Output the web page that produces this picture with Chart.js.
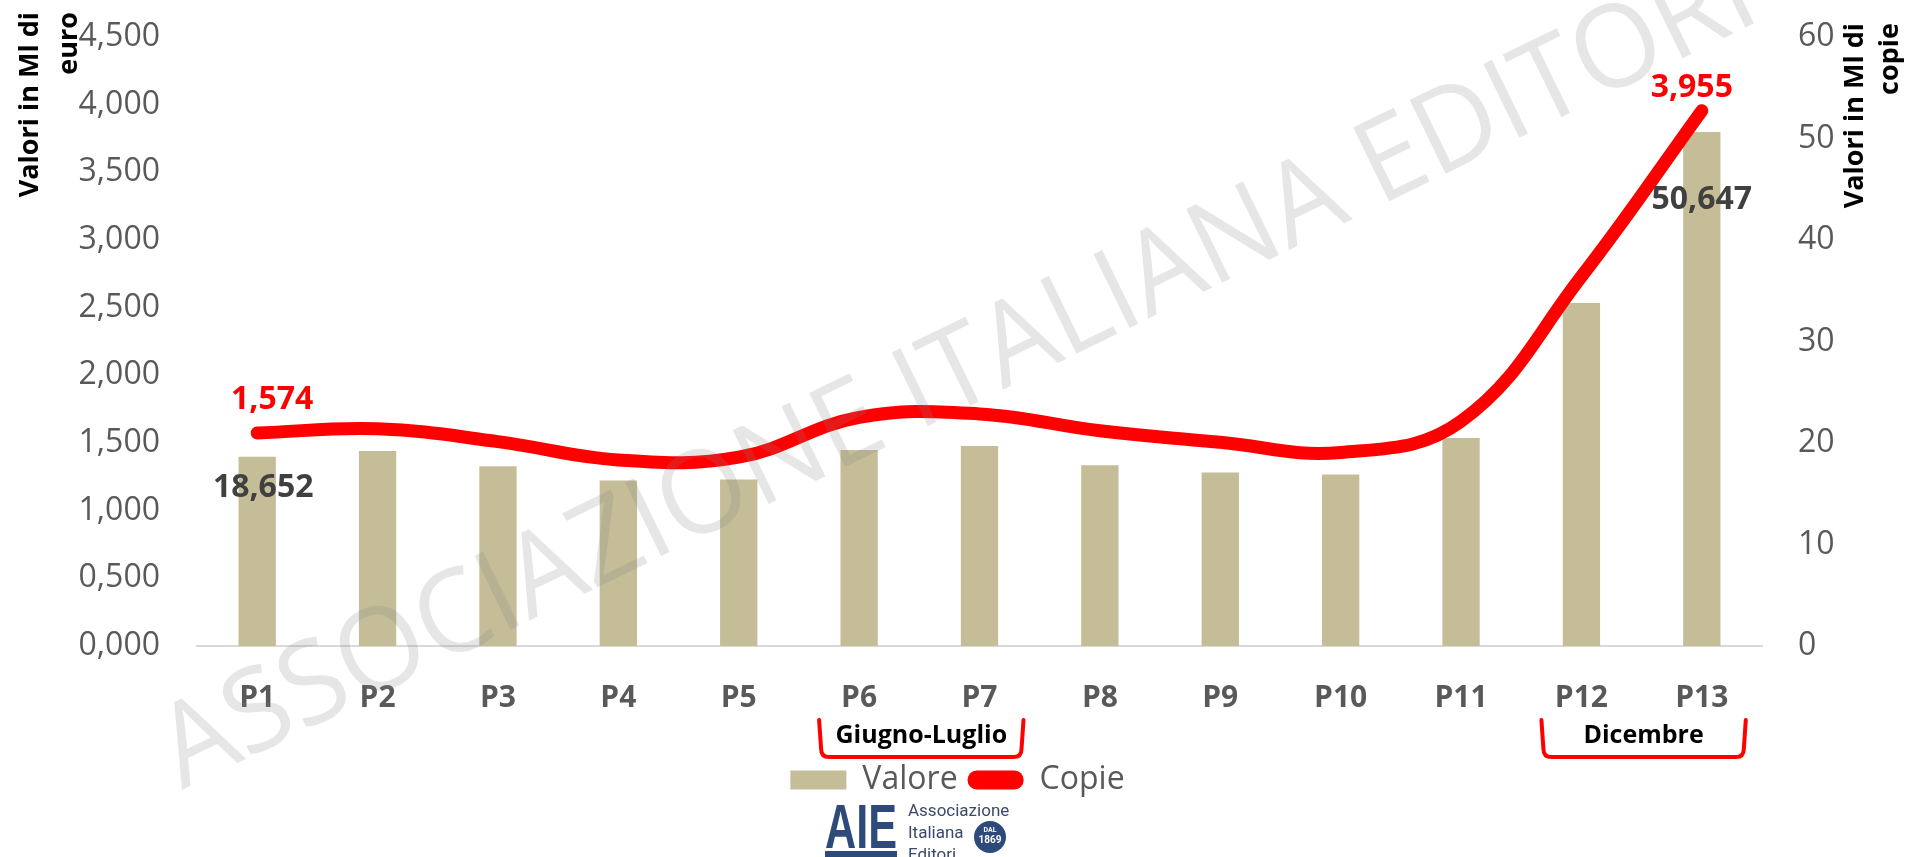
<!DOCTYPE html>
<html>
<head>
<meta charset="utf-8">
<script src="https://cdn.jsdelivr.net/npm/chart.js@4.4.0/dist/chart.umd.min.js"></script>
<style>
  html, body { margin: 0; padding: 0; background: #fff; overflow: hidden; }
  canvas { display: block; }
</style>
</head>
<body>
<canvas id="chart" width="1915" height="857"></canvas>
<script>
// periodi e valori
const periods = ["P1", "P2", "P3", "P4", "P5", "P6", "P7", "P8", "P9", "P10", "P11", "P12", "P13"];
// barre (asse destro, Ml di copie)
const valoreBars = [18.652, 19.2, 17.7, 16.3, 16.4, 19.3, 19.7, 17.8, 17.1, 16.9, 20.5, 33.8, 50.647];
// linea (asse sinistro, Ml di euro)
const copieLine = [1.574, 1.605, 1.510, 1.375, 1.395, 1.690, 1.715, 1.590, 1.505, 1.430, 1.660, 2.730, 3.955];
// etichette dati mostrate solo su primo e ultimo punto
const labelPoints = [0, 12];
const periodNotes = [
    { text: "Giugno-Luglio", from: 5, to: 6 },
    { text: "Dicembre", from: 11, to: 12 }
];

const TAN = "#C4BD97";
const RED = "#FF0000";
const GREY = "#595959";
const FONT = "'Open Sans', sans-serif";

const fmt = v => v.toFixed(3).replace(".", ",");

Chart.defaults.font.family = FONT;

const extras = {
    id: "extras",
    afterDatasetsDraw(chart) {
        const ctx = chart.ctx;
        const bars = chart.getDatasetMeta(0).data;
        const line = chart.getDatasetMeta(1).data;
        ctx.save();
        ctx.font = "bold 32px " + FONT;
        ctx.textAlign = "center";
        ctx.textBaseline = "middle";
        // label offsets copied from the original placement
        const lineOff = [[15, -33], [-10, -23]];
        const barOff = [[6, 31], [0, 68]];
        labelPoints.forEach((i, k) => {
            const p = line[i];
            ctx.fillStyle = RED;
            ctx.fillText(fmt(copieLine[i]), p.x + lineOff[k][0], p.y + lineOff[k][1]);
            const b = bars[i];
            ctx.fillStyle = "#404040";
            ctx.fillText(fmt(valoreBars[i]), b.x + barOff[k][0], b.y + barOff[k][1]);
        });
        ctx.restore();
    },
    afterDraw(chart) {
        const ctx = chart.ctx;
        const x = chart.scales.x;
        const area = chart.chartArea;

        // axis titles, top-aligned like in Excel
        ctx.save();
        ctx.font = "bold 27px " + FONT;
        ctx.fillStyle = "#000";
        ctx.textAlign = "right";
        ctx.textBaseline = "alphabetic";
        const vtext = (t, px, py) => {
            ctx.save();
            ctx.translate(px, py);
            ctx.rotate(-Math.PI / 2);
            ctx.fillText(t, 0, 0);
            ctx.restore();
        };
        vtext("Valori in Ml di", 38, 12);
        vtext("euro", 77, 12);
        vtext("Valori in Ml di", 1863, 23);
        vtext("copie", 1898, 23);
        ctx.restore();

        // brackets under the months
        ctx.save();
        ctx.strokeStyle = RED;
        ctx.lineWidth = 4;
        ctx.lineJoin = "round";
        ctx.lineCap = "round";
        const top = area.bottom + 74, bottom = area.bottom + 111, r = 8;
        periodNotes.forEach(n => {
            const x0 = x.getPixelForValue(n.from) - 40;
            const x1 = x.getPixelForValue(n.to) + 44;
            ctx.beginPath();
            ctx.moveTo(x0, top);
            ctx.lineTo(x0 + 2, bottom - r);
            ctx.quadraticCurveTo(x0 + 2, bottom, x0 + 2 + r, bottom);
            ctx.lineTo(x1 - 2 - r, bottom);
            ctx.quadraticCurveTo(x1 - 2, bottom, x1 - 2, bottom - r);
            ctx.lineTo(x1, top);
            ctx.stroke();
            ctx.fillStyle = "#000";
            ctx.font = "bold 25px " + FONT;
            ctx.textAlign = "center";
            ctx.textBaseline = "middle";
            ctx.fillText(n.text, (x0 + x1) / 2, top + 16);
        });
        ctx.restore();

        // logo AIE
        ctx.save();
        ctx.fillStyle = "#2d4a7a";
        ctx.font = "bold 63px 'Liberation Sans'";
        ctx.textBaseline = "alphabetic";
        const aw = ctx.measureText("AIE").width;
        ctx.save();
        ctx.translate(825, 848);
        ctx.scale(72 / aw, 1);
        ctx.fillText("AIE", 0, 0);
        ctx.restore();
        ctx.fillRect(825, 851, 72, 6);
        ctx.fillStyle = "#3b4a6b";
        ctx.font = "17px Roboto";
        ctx.fillText("Associazione", 908, 816);
        ctx.fillText("Italiana", 908, 838);
        ctx.fillText("Editori", 908, 860);
        ctx.fillStyle = "#2d4a7a";
        ctx.beginPath();
        ctx.arc(990, 837, 16, 0, Math.PI * 2);
        ctx.fill();
        ctx.fillStyle = "#fff";
        ctx.textAlign = "center";
        ctx.font = "bold 7px Roboto";
        ctx.fillText("DAL", 990, 832);
        ctx.font = "bold 10px Roboto";
        ctx.fillText("1869", 990, 843);
        ctx.restore();

        // watermark
        ctx.save();
        const wm = "ASSOCIAZIONE ITALIANA EDITORI";
        ctx.translate(182, 790);
        ctx.rotate(-26 * Math.PI / 180);
        ctx.font = "115px " + FONT;
        const w = ctx.measureText(wm).width;
        ctx.scale(1760 / w, 1);
        ctx.fillStyle = "rgba(128,128,128,0.2)";
        ctx.textBaseline = "alphabetic";
        ctx.fillText(wm, 0, 0);
        ctx.restore();
    }
};

// y axes: fixed width, no extra label padding above the plot
const fixY = width => scale => {
    scale.width = width;
    scale.paddingTop = 0;
    scale.paddingBottom = 0;
};

new Chart(document.getElementById("chart"), {
    type: "bar",
    data: {
        labels: periods,
        datasets: [
            {
                type: "bar",
                label: "Valore",
                data: valoreBars,
                yAxisID: "y1",
                backgroundColor: TAN,
                barPercentage: 0.31,
                categoryPercentage: 1,
                order: 1
            },
            {
                type: "line",
                label: "Copie",
                data: copieLine,
                yAxisID: "y",
                borderColor: RED,
                backgroundColor: RED,
                borderWidth: 13,
                borderCapStyle: "round",
                tension: 0.4,
                pointRadius: 0,
                order: 0
            }
        ]
    },
    options: {
        responsive: false,
        animation: false,
        layout: { padding: { top: 37, bottom: 51, left: 0, right: 0 } },
        plugins: {
            tooltip: { enabled: false },
            legend: {
                position: "bottom",
                labels: {
                    color: GREY,
                    font: { size: 32 },
                    boxWidth: 56,
                    boxHeight: 19,
                    padding: 10,
                    useBorderRadius: true,
                    generateLabels(chart) {
                        const items = Chart.defaults.plugins.legend.labels.generateLabels(chart);
                        items.forEach(it => {
                            it.lineWidth = 0;
                            it.strokeStyle = "rgba(0,0,0,0)";
                            it.borderRadius = it.text === "Copie" ? 9 : 0;
                        });
                        return items.sort((a, b) => a.datasetIndex - b.datasetIndex);
                    }
                }
            }
        },
        scales: {
            x: {
                grid: { display: false, drawTicks: false },
                border: { display: true, color: "#d9d9d9", width: 2 },
                ticks: { color: GREY, font: { size: 30, weight: "bold" }, padding: 34 },
                afterFit(scale) { scale.height = 108; }
            },
            y: {
                position: "left",
                min: 0,
                max: 4.5,
                grid: { display: false, drawTicks: false },
                border: { display: false },
                ticks: {
                    stepSize: 0.5,
                    color: GREY,
                    font: { size: 32 },
                    padding: 37,
                    callback: v => fmt(v)
                },
                afterFit: fixY(197)
            },
            y1: {
                position: "right",
                min: 0,
                max: 60,
                grid: { display: false, drawTicks: false },
                border: { display: false },
                ticks: { stepSize: 10, color: GREY, font: { size: 32 }, padding: 36 },
                afterFit: fixY(153)
            }
        }
    },
    plugins: [extras]
});
</script>
</body>
</html>
